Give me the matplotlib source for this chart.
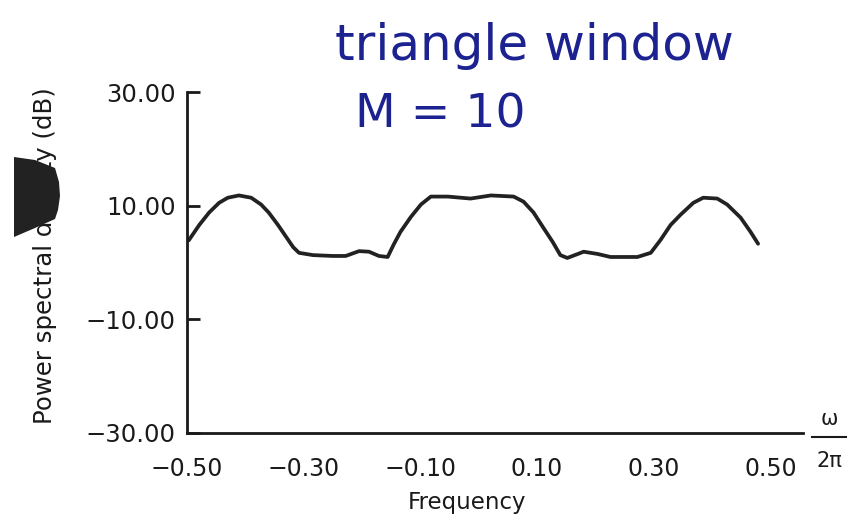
import matplotlib
matplotlib.use("Agg")
import matplotlib.pyplot as plt
from matplotlib.patches import Polygon
from matplotlib.lines import Line2D

# Data (frequency in cycles/sample, PSD in dB)
freq = [-0.497, -0.493, -0.479, -0.462, -0.445, -0.430, -0.411, -0.390, -0.373,
        -0.360, -0.344, -0.330, -0.318, -0.308, -0.284, -0.250, -0.228, -0.205,
        -0.188, -0.171, -0.156, -0.146, -0.134, -0.116, -0.099, -0.082, -0.053,
        -0.014, 0.021, 0.060, 0.077, 0.094, 0.111, 0.127, 0.140, 0.152, 0.170,
        0.180, 0.204, 0.226, 0.272, 0.295, 0.312, 0.329, 0.346, 0.368, 0.385,
        0.409, 0.426, 0.449, 0.466, 0.479]
psd_db = [3.9, 4.5, 6.6, 8.8, 10.5, 11.4, 11.8, 11.4, 10.2,
          8.8, 6.6, 4.5, 2.7, 1.7, 1.3, 1.15, 1.15, 2.0,
          1.9, 1.15, 0.97, 3.1, 5.4, 8.05, 10.2, 11.6, 11.6,
          11.25, 11.8, 11.6, 10.7, 8.8, 6.1, 3.6, 1.3, 0.8, 1.5,
          1.9, 1.5, 0.97, 0.97, 1.7, 4.0, 6.6, 8.4, 10.5, 11.4,
          11.25, 10.2, 7.9, 5.4, 3.3]

xticks = [-0.50, -0.30, -0.10, 0.10, 0.30, 0.50]
xtick_labels = ["\u22120.50", "\u22120.30", "\u22120.10", "0.10", "0.30", "0.50"]
yticks = [30, 10, -10, -30]
ytick_labels = ["30.00", "10.00", "\u221210.00", "\u221230.00"]

W, H = 850, 517
fig = plt.figure(figsize=(8.5, 5.17), dpi=100)
ax = fig.add_axes([187 / W, 1 - 433 / H, (803 - 187) / W, (433 - 92) / H])

ax.plot(freq, psd_db, color="#222222", lw=2.7, solid_capstyle="round", solid_joinstyle="round")

ax.set_xlim(-0.5, 0.556)
ax.set_ylim(-30, 30)
ax.set_xticks(xticks)
ax.set_xticklabels(xtick_labels)
ax.set_yticks(yticks)
ax.set_yticklabels(ytick_labels)

for s in ["top", "right"]:
    ax.spines[s].set_visible(False)
for s in ["left", "bottom"]:
    ax.spines[s].set_linewidth(2.0)
    ax.spines[s].set_color("#1a1a1a")

ax.tick_params(axis="y", direction="in", length=9, width=2, labelsize=17.5, pad=8, colors="#1a1a1a")
ax.tick_params(axis="x", length=0, labelsize=17, pad=17, colors="#1a1a1a")

def px(x, y):
    return (x / W, 1 - y / H)

# axis titles
fig.text(*px(467, 503), "Frequency", ha="center", va="center", fontsize=16.5, color="#1a1a1a")
fig.text(*px(45, 256), "Power spectral density (dB)", ha="center", va="center",
         rotation=90, fontsize=17.6, color="#1a1a1a")
fig.text(*px(829, 419), "\u03c9", ha="center", va="center", fontsize=15, color="#1a1a1a")
fig.add_artist(Line2D([812 / W, 846 / W], [1 - 437 / H, 1 - 437 / H], color="#1a1a1a", lw=1.5))
fig.text(*px(829, 461), "2\u03c0", ha="center", va="center", fontsize=15, color="#1a1a1a")

# scan artefact blob covering part of the y label
pts = [(14, 157), (35, 160), (55, 168), (59, 182), (60, 196), (58, 210),
       (55, 219), (35, 228), (14, 237)]
blob = Polygon([px(x, y) for x, y in pts], closed=True, transform=fig.transFigure,
               facecolor="#222222", edgecolor="none", zorder=10)
fig.add_artist(blob)

# handwritten annotation
ink = "#1c2290"
fig.text(*px(335, 60), "triangle window", ha="left", va="baseline",
         fontsize=36, color=ink)
fig.text(*px(355, 128), "M = 10", ha="left", va="baseline",
         fontsize=34, color=ink)

fig.savefig("out.png", dpi=100)
